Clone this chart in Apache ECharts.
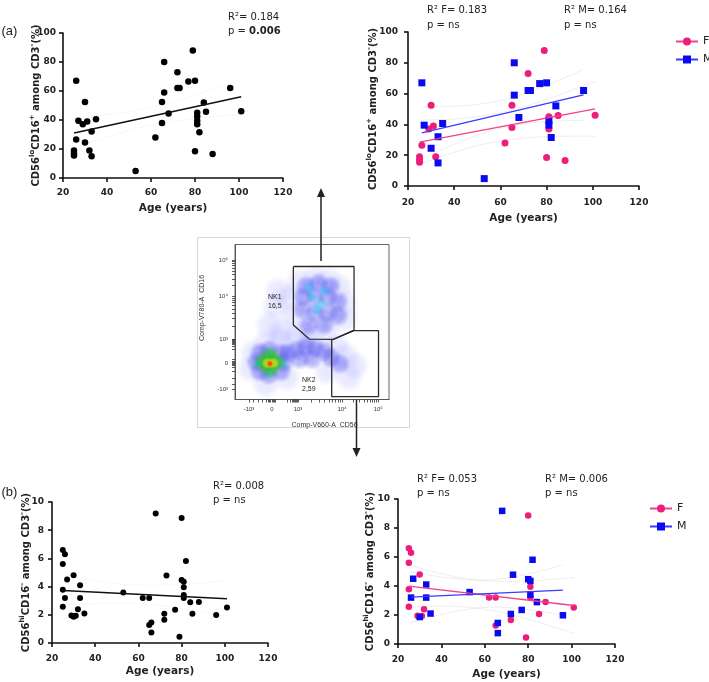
<!DOCTYPE html>
<html><head><meta charset="utf-8">
<script src="https://cdn.jsdelivr.net/npm/echarts@6/dist/echarts.min.js"></script>
<style>html,body{margin:0;padding:0;background:#fff}#c{width:709px;height:682px}</style>
</head><body><div id="c"></div>
<script>
// ---------------- data ----------------
// CD56lo CD16+ among CD3- (%) vs age, split by sex: [age, value]
const cd56loF = [[25,19],[25,17],[25,15.5],[26,26.5],[29,37],[30,52.5],[31,39],[32,19],[62,28],[65,52.5],[65,38],[72,73],[79,88],[80,18.5],[81,45],[81,37],[85,45.7],[88,16.5],[101,46]];
const cd56loM = [[26,67],[27,39.5],[30,24.5],[33,32],[33,15],[35,40.6],[53,4.8],[66,80],[66,59],[68,44.5],[72,62],[73,62],[77,66.5],[80,67],[81,42.5],[81,39.5],[82,31.5],[84,52],[96,62]];
// CD56hi CD16- among CD3- (%) vs age
const cd56hiF = [[25,6.6],[26,6.3],[25,5.6],[25,3.78],[25,2.57],[30,4.8],[29,1.95],[31,1.93],[32,2.4],[62,3.2],[65,3.2],[65,1.28],[72,1.65],[80,8.87],[79,0.45],[81,3.95],[81,3.2],[85,2.07],[88,2.9],[101,2.52]];
const cd56hiM = [[27,4.5],[26,3.2],[30,1.86],[33,4.1],[33,3.2],[35,2.1],[53,3.58],[68,9.18],[66,1.45],[66,0.75],[72,2.07],[73,4.78],[77,2.35],[80,4.47],[81,4.35],[81,3.41],[82,5.81],[84,2.89],[96,1.98]];

const sexNames = ['F','M'];
const statA  = ['R²= 0.184','0.006'];
const statAF = ['R² F= 0.183','p = ns'];
const statAM = ['R² M= 0.164','p = ns'];
const statB  = ['R²= 0.008','p = ns'];
const statBF = ['R² F= 0.053','p = ns'];
const statBM = ['R² M= 0.006','p = ns'];

// flow cytometry panel (axis in display % of the plot frame)
const flowXPos = [9.1,24,40.9,69.5,93];
const flowYPos = [6.5,23.4,39,66.8,90];
const flowTickLabels = ['-10³','0','10³','10⁴','10⁵'];
const gateNK1 = [[37.9,85.8],[77.3,85.8],[77.3,44.8],[63.8,38.8],[48.2,39.0],[37.9,48.1],[37.9,85.8]];
const gateNK2 = [[62.8,38.4],[77.3,44.4],[93.2,44.4],[93.2,1.8],[62.8,1.8],[62.8,38.4]];
const gateNames = ['NK1','NK2'];
const gateValues = ['16,5','2,59'];
// density clouds, layered from sparse to dense
const cloudSparse = [[42,76],[52,78],[61,77],[68,72],[36,66],[71,62],[38,54],[71,52],[46,44],[60,44],[28,70],[26,60],[22,48],[30,44],[10,20],[12,30],[20,36],[30,38],[40,40],[50,38],[66,34],[72,28],[78,22],[74,14],[60,18],[34,14],[20,10]];
const cloudBlue = [[46,73],[54,75],[62,73],[44,66],[52,66],[60,66],[67,63],[44,58],[52,56],[60,56],[67,54],[48,48],[58,48],[34,30],[40,32],[46,34],[52,33],[58,31],[42,26],[50,26],[62,27],[68,23],[14,24],[32,24],[22,16],[22,32],[16,30],[30,30],[16,18],[30,18]];
const cloudCyan = [[50,66],[56,62],[53,58],[58,70],[48,72],[15,23],[31,23],[22,17],[23,30]];
const cloudGreen = [[18,24],[27,24],[22.5,20],[22.5,28],[22.5,24]];
const cloudYellow = [[21,23.5],[25,23.5]];
const cloudOrange = [[22.5,23]];
const cloudRed = [[22.7,23.2]];

// ---------------- helpers ----------------
const FF = 'DejaVu Sans';
const TXT = '#222';
const PINK = '#ec1e79', BLUE = '#0a0af0';
const PINKL = '#f0428c', BLUEL = '#3a3aff';

function linfit(pts){
  const n = pts.length; let sx=0, sy=0;
  pts.forEach(p=>{sx+=p[0]; sy+=p[1];});
  const mx=sx/n, my=sy/n; let sxx=0, sxy=0;
  pts.forEach(p=>{sxx+=(p[0]-mx)*(p[0]-mx); sxy+=(p[0]-mx)*(p[1]-my);});
  const b=sxy/sxx, a=my-b*mx; let sse=0;
  pts.forEach(p=>{const r=p[1]-a-b*p[0]; sse+=r*r;});
  const xs=pts.map(p=>p[0]);
  return {a,b,mx,sxx,n,s:Math.sqrt(sse/(n-2)),x0:Math.min(...xs),x1:Math.max(...xs)};
}
function fitLine(f){ return [[f.x0,f.a+f.b*f.x0],[f.x1,f.a+f.b*f.x1]]; }
function band(f,t,sign){
  const out=[]; const steps=30;
  for(let i=0;i<=steps;i++){ const x=f.x0+(f.x1-f.x0)*i/steps;
    const se=f.s*Math.sqrt(1/f.n+(x-f.mx)*(x-f.mx)/f.sxx); out.push([x,f.a+f.b*x+sign*t*se]); }
  return out;
}
function scat(gi,data,symbol,color,size){
  return {type:'scatter',xAxisIndex:gi,yAxisIndex:gi,data,symbol,symbolSize:size,
    itemStyle:{color,opacity:1},silent:true,z:3,animation:false};
}
function lineS(gi,data,color,width,dotted){
  return {type:'line',xAxisIndex:gi,yAxisIndex:gi,data,showSymbol:false,symbol:'none',
    lineStyle:{color,width,type:dotted?'dotted':'solid'},silent:true,z:dotted?1:4,animation:false};
}
function fitSeries(gi,pts,color,width,t,bandColor){
  const f=linfit(pts);
  return [lineS(gi,fitLine(f),color,width,false),
          lineS(gi,band(f,t,1),bandColor,1,true),
          lineS(gi,band(f,t,-1),bandColor,1,true)];
}
function rgba(c,a){ return 'rgba('+c[0]+','+c[1]+','+c[2]+','+a+')'; }
function cloud(data,size,c,a){
  return {type:'scatter',xAxisIndex:2,yAxisIndex:2,data,symbol:'circle',symbolSize:size,
    itemStyle:{color:{type:'radial',x:0.5,y:0.5,r:0.5,colorStops:[
      {offset:0,color:rgba(c,a)},{offset:0.55,color:rgba(c,a*0.75)},{offset:1,color:rgba(c,0)}]}},
    silent:true,z:2,animation:false};
}
function gate(data){
  return {type:'line',xAxisIndex:2,yAxisIndex:2,data,showSymbol:false,symbol:'none',
    lineStyle:{color:'#2a2a2a',width:1.3},silent:true,z:5,animation:false};
}
const yNameLo = '{m|CD56}{s|lo}{m|CD16}{s|+}{m| among CD3}{s|-}{m|(%)}';
const yNameHi = '{m|CD56}{s|hi}{m|CD16}{s|-}{m| among CD3}{s|-}{m|(%)}';
const richY = {
  m:{fontFamily:FF,fontWeight:'bold',fontSize:10,color:TXT,lineHeight:14},
  s:{fontFamily:FF,fontWeight:'bold',fontSize:7,color:TXT,lineHeight:9,verticalAlign:'top'}
};
const AX = {color:'#111',width:1.6};
function ageAxis(gi,margin,gap){
  return {gridIndex:gi,type:'value',min:20,max:120,interval:20,
    name:'Age (years)',nameLocation:'middle',nameGap:gap,nameMoveOverlap:false,
    nameTextStyle:{fontFamily:FF,fontWeight:'bold',fontSize:10.5,color:TXT},
    axisLine:{show:true,onZero:false,lineStyle:AX},
    axisTick:{show:true,length:4,lineStyle:AX},
    axisLabel:{show:true,margin,fontFamily:FF,fontWeight:'bold',fontSize:9,color:TXT},
    splitLine:{show:false}};
}
function valAxis(gi,max,interval,name,margin,gap){
  return {gridIndex:gi,type:'value',min:0,max,interval,
    name,nameLocation:'middle',nameRotate:90,nameGap:gap,nameMoveOverlap:false,
    nameTextStyle:{fontFamily:FF,fontWeight:'bold',fontSize:10,color:TXT,rich:richY},
    axisLine:{show:true,onZero:false,lineStyle:AX},
    axisTick:{show:true,length:4,lineStyle:AX},
    axisLabel:{show:true,margin,fontFamily:FF,fontWeight:'bold',fontSize:9,color:TXT},
    splitLine:{show:false}};
}
function logTicks(p0,p1){ const r=[]; for(let k=2;k<=9;k++) r.push(p0+(p1-p0)*Math.log10(k)); return r; }
const flowXTicks = flowXPos.concat(logTicks(31,40.9),logTicks(40.9,69.5),logTicks(69.5,93),[12,15,18,20,21.6,22.4,23.2,24.8,25.6,26.4]);
const flowYTicks = flowYPos.concat(logTicks(30,39),logTicks(39,66.8),logTicks(66.8,90),[10,14,18,20.8,21.8,22.6,24.2,25,26]);
function flowAxis(isX){
  const pos = isX?flowXPos:flowYPos;
  return {gridIndex:2,type:'value',min:0,max:100,
    axisLine:{show:true,onZero:false,lineStyle:{color:'#555',width:1}},
    axisTick:{show:true,customValues:isX?flowXTicks:flowYTicks,length:3,lineStyle:{color:'#333',width:0.8}},
    axisLabel:{show:true,customValues:pos,margin:7,fontFamily:'Liberation Sans',fontSize:6,color:'#333',
      formatter:v=>{const i=pos.indexOf(v); return i>=0?flowTickLabels[i]:'';}},
    splitLine:{show:false}};
}

// ---------------- series ----------------
const allLo = cd56loF.concat(cd56loM);
const allHi = cd56hiF.concat(cd56hiM);
const BAND_FAINT = 'rgba(120,120,120,0.12)';
const BAND = 'rgba(120,120,120,0.25)';
const series = [
  // legend proxies
  {type:'line',name:sexNames[0],xAxisIndex:1,yAxisIndex:1,data:[],symbol:'circle',symbolSize:8,itemStyle:{color:PINK},lineStyle:{color:PINKL,width:1.4}},
  {type:'line',name:sexNames[1],xAxisIndex:1,yAxisIndex:1,data:[],symbol:'rect',symbolSize:8,itemStyle:{color:BLUE},lineStyle:{color:BLUEL,width:1.4}},
  // (a) left
  ...fitSeries(0,allLo,'#111',1.5,2.03,BAND_FAINT),
  scat(0,allLo,'circle','#000',6.5),
  // (a) right
  ...fitSeries(1,cd56loF,PINKL,1.3,2.11,BAND),
  ...fitSeries(1,cd56loM,BLUEL,1.3,2.11,BAND),
  scat(1,cd56loF,'circle',PINK,7),
  scat(1,cd56loM,'rect',BLUE,7),
  // (b) left
  ...fitSeries(3,allHi,'#111',1.5,2.03,BAND_FAINT),
  scat(3,allHi,'circle','#000',6),
  // (b) right
  ...fitSeries(4,cd56hiF,PINKL,1.3,2.10,BAND),
  ...fitSeries(4,cd56hiM,BLUEL,1.3,2.11,BAND),
  scat(4,cd56hiF,'circle',PINK,6.5),
  scat(4,cd56hiM,'rect',BLUE,6.5),
  // flow panel
  cloud(cloudSparse,30,[100,100,255],0.2),
  cloud(cloudBlue,22,[45,45,235],0.5),
  cloud(cloudCyan,12,[0,210,235],0.5),
  cloud(cloudGreen,20,[40,190,40],0.95),
  cloud(cloudYellow,12,[215,230,20],1),
  cloud(cloudOrange,9,[255,140,0],1),
  cloud(cloudRed,6,[255,30,30],1),
  gate(gateNK1),
  gate(gateNK2)
];

// ---------------- annotations ----------------
function T(x,y,text,extra){
  return {type:'text',x,y,silent:true,z:10,style:Object.assign({text,fill:TXT,fontFamily:FF,fontSize:10,align:'left',verticalAlign:'middle'},extra||{})};
}
const graphic = [
  {type:'rect',silent:true,z:0,shape:{x:197.5,y:237.5,width:212,height:190},style:{fill:'none',stroke:'#d6d6d6',lineWidth:1}},
  T(1.5,31.5,'(a)',{fontSize:13,fontFamily:'Liberation Sans'}),
  T(228,17.5,statA[0]),
  {type:'text',x:228,y:31.7,silent:true,z:10,style:{text:'{n|p = }{b|'+statA[1]+'}',align:'left',verticalAlign:'middle',
    rich:{n:{fontFamily:FF,fontSize:10,fill:TXT,color:TXT},b:{fontFamily:FF,fontSize:10,fontWeight:'bold',fill:TXT,color:TXT}}}},
  T(427,10,statAF[0]), T(427,25,statAF[1]),
  T(564,10,statAM[0]), T(564,25,statAM[1]),
  T(1.5,492.5,'(b)',{fontSize:13,fontFamily:'Liberation Sans'}),
  T(213,486,statB[0]), T(213,500.5,statB[1]),
  T(417,479,statBF[0]), T(417,493,statBF[1]),
  T(545,479,statBM[0]), T(545,493,statBM[1]),
  // flow panel text
  T(268,297,gateNames[0],{fontSize:7,fontFamily:'Liberation Sans'}),
  T(268,306,gateValues[0],{fontSize:7,fontFamily:'Liberation Sans'}),
  T(302,380,gateNames[1],{fontSize:7,fontFamily:'Liberation Sans'}),
  T(302,389,gateValues[1],{fontSize:7,fontFamily:'Liberation Sans'}),
  {type:'text',x:202.5,y:308,rotation:Math.PI/2,silent:true,z:10,style:{text:'Comp-V780-A  CD16',fill:'#333',fontFamily:'Liberation Sans',fontSize:7,align:'center',verticalAlign:'middle'}},
  T(291.5,425,'Comp-V660-A  CD56',{fontSize:7,fontFamily:'Liberation Sans',fill:'#333'}),
  // arrows
  {type:'line',silent:true,z:10,shape:{x1:321,y1:261,x2:321,y2:196},style:{stroke:'#222',lineWidth:1.5}},
  {type:'polygon',silent:true,z:10,shape:{points:[[321,188],[317,197],[325,197]]},style:{fill:'#222'}},
  {type:'line',silent:true,z:10,shape:{x1:356.5,y1:400,x2:356.5,y2:449},style:{stroke:'#222',lineWidth:1.5}},
  {type:'polygon',silent:true,z:10,shape:{points:[[356.5,457],[352.5,448],[360.5,448]]},style:{fill:'#222'}}
];

const legendBase = {orient:'vertical',padding:0,itemWidth:22,itemHeight:10,itemGap:7,selectedMode:false,data:sexNames,
  textStyle:{fontFamily:FF,fontSize:11,color:TXT}};

const option = {
  animation:false,
  backgroundColor:'#fff',
  grid:[
    {left:63,top:33,width:220,height:145,outerBoundsMode:'none'},
    {left:408,top:32,width:231,height:154,outerBoundsMode:'none'},
    {left:235,top:244.5,width:154,height:155,outerBoundsMode:'none',show:true,borderColor:'#666',borderWidth:1,backgroundColor:'transparent'},
    {left:52,top:502,width:216,height:141,outerBoundsMode:'none'},
    {left:398,top:499,width:217,height:145,outerBoundsMode:'none'}
  ],
  xAxis:[ageAxis(0,10,25),ageAxis(1,12,27),flowAxis(true),ageAxis(3,11,23),ageAxis(4,11,25)],
  yAxis:[valAxis(0,100,20,yNameLo,7,20),valAxis(1,100,20,yNameLo,10,28),flowAxis(false),valAxis(3,10,2,yNameHi,8,19),valAxis(4,10,2,yNameHi,8,21)],
  legend:[Object.assign({left:675,top:36},legendBase),Object.assign({left:649,top:503},legendBase)],
  series,
  graphic
};
const chart = echarts.init(document.getElementById('c'),null,{renderer:'canvas'});
chart.setOption(option);
</script></body></html>
